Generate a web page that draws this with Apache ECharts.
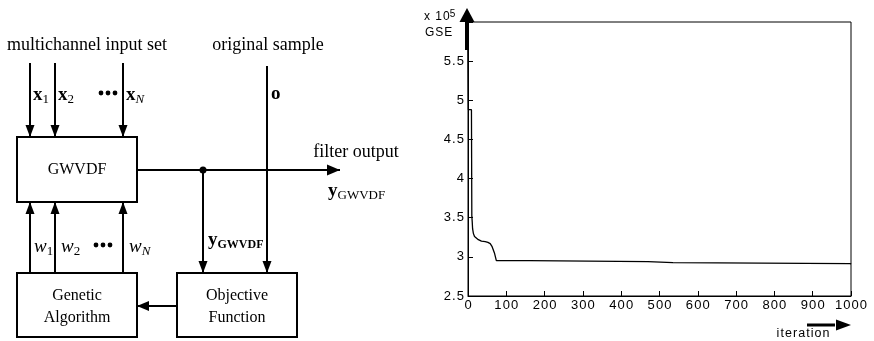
<!DOCTYPE html>
<html>
<head>
<meta charset="utf-8">
<script src="https://cdn.jsdelivr.net/npm/echarts@6/dist/echarts.min.js"></script>
<style>
  html, body { margin: 0; background: #fff; }
  #chart { width: 874px; height: 341px; }
</style>
</head>
<body>
<div id="chart"></div>
<script>
// convergence curve of the GA (right panel)
const iterations = [0, 1, 9, 10, 11, 12, 14, 17, 20, 27, 35, 45, 52, 58, 62, 63, 68, 69, 73, 74, 160, 161, 470, 471, 535, 536, 998, 1000]
const gse = [5.65, 4.88, 4.88, 3.52, 3.45, 3.36, 3.3, 3.26, 3.24, 3.22, 3.2, 3.195, 3.185, 3.17, 3.16, 3.13, 3.13, 3.05, 3.05, 2.952, 2.952, 2.939, 2.939, 2.926, 2.926, 2.914, 2.914, 2.905]
const yTickLabels = ['2.5', '3', '3.5', '4', '4.5', '5', '5.5', '']
const xTickLabels = ['0', '100', '200', '300', '400', '500', '600', '700', '800', '900', '1000']

const serif = '"Liberation Serif", "DejaVu Serif", serif'
const sans = '"Liberation Sans", Arial, sans-serif'
const spaced = (s) => s.split('').join('\u200A')

const chart = echarts.init(document.getElementById('chart'))

// small helpers for the block diagram
const line = (x1, y1, x2, y2, w = 2) => ({
  type: 'line', shape: { x1, y1, x2, y2 }, style: { stroke: '#000', lineWidth: w }, silent: true
})
const head = (x, y, dir, len = 12, h = 4.5) => {
  let pts
  if (dir === 'down') pts = [[x, y], [x - h, y - len], [x + h, y - len]]
  if (dir === 'up') pts = [[x, y], [x - h, y + len], [x + h, y + len]]
  if (dir === 'right') pts = [[x, y], [x - len, y - h], [x - len, y + h]]
  if (dir === 'left') pts = [[x, y], [x + len, y - h], [x + len, y + h]]
  return { type: 'polygon', shape: { points: pts }, style: { fill: '#000' }, silent: true }
}
const arrow = (x1, y1, x2, y2, dir, len, h) => [line(x1, y1, x2, y2), head(x2, y2, dir, len, h)]
const box = (x, y, width, height) => ({
  type: 'rect', shape: { x, y, width, height }, style: { fill: 'none', stroke: '#000', lineWidth: 2 }, silent: true
})
const txt = (text, x, y, opt = {}) => ({
  type: 'text', silent: true,
  style: Object.assign({ text, x, y, fill: '#000', font: '16px ' + serif, align: 'center', verticalAlign: 'middle' }, opt)
})
const dots = (x0, y) => [0, 1, 2].map(i => ({
  type: 'circle', shape: { cx: x0 + i * 7, cy: y, r: 2.4 }, style: { fill: '#000' }, silent: true
}))
const sub = {
  b: { fontFamily: serif, fontSize: 19, fontWeight: 'bold', lineHeight: 22 },
  i: { fontFamily: serif, fontSize: 19, fontStyle: 'italic', lineHeight: 22 },
  s: { fontFamily: serif, fontSize: 13, lineHeight: 13, verticalAlign: 'bottom' },
  si: { fontFamily: serif, fontSize: 13, fontStyle: 'italic', lineHeight: 13, verticalAlign: 'bottom' },
  sb: { fontFamily: serif, fontSize: 12, fontWeight: 'bold', lineHeight: 13, verticalAlign: 'bottom' }
}
const rich = (text, x, y) => txt(text, x, y, { align: 'left', rich: sub })

const diagram = [
  txt('multichannel input set', 87, 45, { font: '18px ' + serif }),
  txt('original sample', 268, 45, { font: '18px ' + serif }),
  txt('filter output', 356, 152, { font: '18px ' + serif }),
  box(17, 137, 120, 65),
  box(17, 273, 120, 64),
  box(177, 273, 120, 64),
  txt('GWVDF', 77, 170),
  txt('Genetic', 77, 296),
  txt('Algorithm', 77, 318),
  txt('Objective', 237, 296),
  txt('Function', 237, 318),
  ...arrow(30, 63, 30, 137, 'down'),
  ...arrow(55, 63, 55, 137, 'down'),
  ...arrow(123, 63, 123, 137, 'down'),
  ...arrow(267, 66, 267, 273, 'down'),
  ...arrow(137, 170, 340, 170, 'right', 13, 5.5),
  ...arrow(203, 170, 203, 273, 'down'),
  ...arrow(177, 306, 137, 306, 'left', 12, 5),
  ...arrow(30, 273, 30, 202, 'up'),
  ...arrow(55, 273, 55, 202, 'up'),
  ...arrow(123, 273, 123, 202, 'up'),
  { type: 'circle', shape: { cx: 203, cy: 170, r: 3.5 }, style: { fill: '#000' }, silent: true },
  ...dots(101, 93),
  ...dots(96, 245),
  rich('{b|x}{s|1}', 33, 95),
  rich('{b|x}{s|2}', 58, 95),
  rich('{b|x}{si|N}', 126, 95),
  rich('{b|o}', 271, 94),
  rich('{i|w}{s|1}', 34, 247),
  rich('{i|w}{s|2}', 61, 247),
  rich('{i|w}{si|N}', 129, 247),
  rich('{b|y}{sb|GWVDF}', 208, 240),
  rich('{b|y}{s|GWVDF}', 328, 191)
]

// decorations of the right panel (axis arrows and names)
const axisDeco = [
  head(467, 8, 'up', 14, 7.5),
  { type: 'rect', shape: { x: 465, y: 21, width: 3.5, height: 29 }, style: { fill: '#000' }, silent: true },
  txt('{n|' + spaced('x 10') + '}{p|5}', 424, 17, {
    align: 'left',
    rich: { n: { fontFamily: sans, fontSize: 12, lineHeight: 16 }, p: { fontFamily: sans, fontSize: 10, lineHeight: 16, verticalAlign: 'top' } }
  }),
  txt(spaced('GSE'), 425, 33, { align: 'left', font: '12px ' + sans }),
  { type: 'rect', shape: { x: 807, y: 323.5, width: 28, height: 3 }, style: { fill: '#000' }, silent: true },
  head(851, 325, 'right', 15, 5.5),
  txt(spaced('iteration'), 803, 334, { font: '12.5px ' + sans })
]

chart.setOption({
  animation: false,
  grid: { left: 468, top: 22, width: 383, height: 274, show: true, borderColor: '#000', borderWidth: 1 },
  xAxis: {
    type: 'value', min: 0, max: 1000, interval: 100,
    axisLine: { lineStyle: { color: '#000', width: 1 } },
    axisTick: { inside: true, length: 5, lineStyle: { color: '#000' } },
    axisLabel: {
      color: '#000', fontFamily: sans, fontSize: 13, margin: 3,
      formatter: (v) => spaced(xTickLabels[Math.round(v / 100)])
    },
    splitLine: { show: false }
  },
  yAxis: {
    type: 'value', min: 2.5, max: 6, interval: 0.5,
    axisLine: { show: true, lineStyle: { color: '#000', width: 1 } },
    axisTick: { inside: true, length: 5, lineStyle: { color: '#000' } },
    axisLabel: {
      color: '#000', fontFamily: sans, fontSize: 13, margin: 4,
      formatter: (v) => spaced(yTickLabels[Math.round((v - 2.5) / 0.5)] || '')
    },
    splitLine: { show: false }
  },
  series: [{
    type: 'line',
    data: iterations.map((it, i) => [it, gse[i]]),
    showSymbol: false,
    lineStyle: { color: '#000', width: 1.3 }
  }],
  graphic: [...diagram, ...axisDeco]
})
</script>
</body>
</html>
